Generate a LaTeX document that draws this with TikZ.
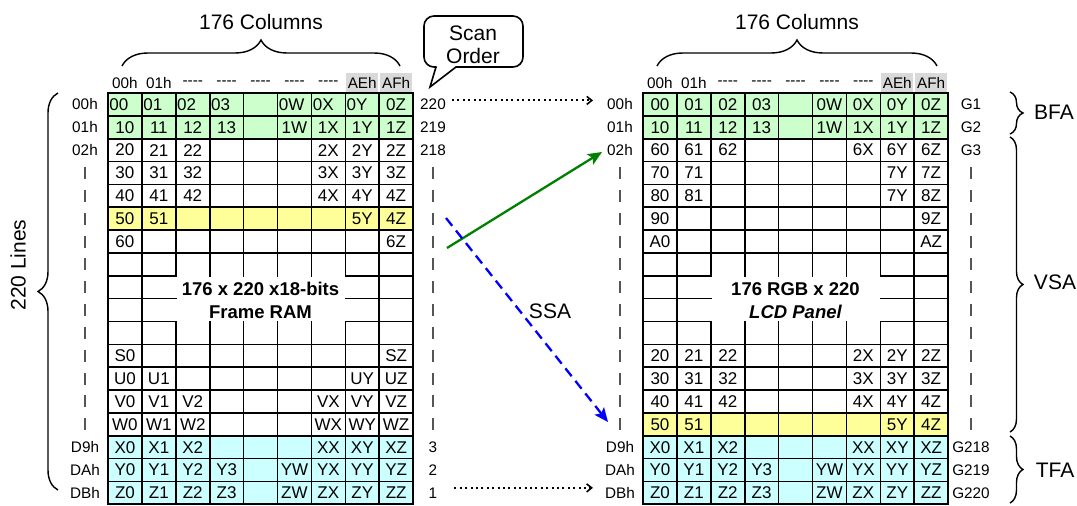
\documentclass[tikz,border=0pt]{standalone}
\usepackage{fontspec}
\setmainfont{Liberation Sans}
\usetikzlibrary{arrows.meta,decorations.pathreplacing}
\definecolor{cgreen}{HTML}{CCFFCC}
\definecolor{cyellow}{HTML}{FFFF99}
\definecolor{ccyan}{HTML}{CCFFFF}
\definecolor{cgray}{HTML}{D9D9D9}
\definecolor{dgreen}{HTML}{008000}
\definecolor{dashgray}{HTML}{555555}
\newcommand{\cellF}{\fontsize{17}{19}\selectfont}
\newcommand{\lblF}{\fontsize{15.3}{17}\selectfont}
\newcommand{\bigF}{\fontsize{21}{24}\selectfont}
\newcommand{\midF}{\fontsize{18.5}{22}\selectfont}
\newcommand{\fourdash}{-{}-{}-{}-}
\def\cw{33.9}
\def\rh{22.85}
\def\ytop{93}
% one row of cell texts
\newcommand{\cellrow}[4]{%
  \foreach \t [count=\c] in {#4} {
    \node[cell] (#1#3-\c) at ({#2+(\c-0.5)*\cw},{\ytop+(#3-0.5)*\rh}) {\t};
  }%
}
\newcommand{\cellrowL}[4]{%
  \foreach \t [count=\c] in {#4} {
    \ifnum\c<9
      \node[cell,anchor=west] (#1#3-\c) at ({#2+(\c-1)*\cw+1.2},{\ytop+(#3-0.5)*\rh}) {\t};
    \else
      \node[cell] (#1#3-\c) at ({#2+(\c-0.5)*\cw},{\ytop+(#3-0.5)*\rh}) {\t};
    \fi
  }%
}
% fills of a grid
\newcommand{\gridfills}[2]{% #1 x0, #2 yellow row
  \fill[cgreen] ({#1},{\ytop}) rectangle ({#1+9*\cw},{\ytop+2*\rh});
  \fill[cyellow] ({#1},{\ytop+(#2-1)*\rh}) rectangle ({#1+9*\cw},{\ytop+#2*\rh});
  \fill[ccyan] ({#1},{\ytop+15*\rh}) rectangle ({#1+9*\cw},{\ytop+18*\rh});
  \fill[cgray] ({#1+7*\cw+1},73) rectangle ({#1+8*\cw-1},92);
  \fill[cgray] ({#1+8*\cw+1},73) rectangle ({#1+9*\cw-1},92);
}
% lines of a grid
\newcommand{\gridlines}[1]{%
  \foreach \k in {1,...,7,11,12,...,17}
    \draw[gl] ({#1},{\ytop+\k*\rh}) -- ({#1+9*\cw},{\ytop+\k*\rh});
  \foreach \k in {8,9,10} {
    \draw[gl] ({#1},{\ytop+\k*\rh}) -- ({#1+2*\cw},{\ytop+\k*\rh});
    \draw[gl] ({#1+7*\cw},{\ytop+\k*\rh}) -- ({#1+9*\cw},{\ytop+\k*\rh});
  }
  \foreach \j in {1,8}
    \draw[gl] ({#1+\j*\cw},{\ytop}) -- ({#1+\j*\cw},{\ytop+18*\rh});
  \foreach \j in {2,...,7} {
    \draw[gl] ({#1+\j*\cw},{\ytop}) -- ({#1+\j*\cw},{\ytop+8*\rh});
    \draw[gl] ({#1+\j*\cw},{\ytop+10*\rh}) -- ({#1+\j*\cw},{\ytop+18*\rh});
  }
  \draw[ob] ({#1},{\ytop}) rectangle ({#1+9*\cw},{\ytop+18*\rh});
}
\newcommand{\headers}[2]{%
  \foreach \t [count=\c] in {00h,01h,\fourdash,\fourdash,\fourdash,\fourdash,\fourdash,AEh,AFh}
    \node[lbl] (#2h\c) at ({#1+(\c-0.5)*\cw},83) {\t};
}
\newcommand{\dashcol}[1]{%
  \foreach \r in {4,...,15}
    \draw[dsh] (#1,{\ytop+(\r-0.5)*\rh-6}) -- (#1,{\ytop+(\r-0.5)*\rh+6});
}
\newcommand{\sidelbl}[3]{% #1 x, #2 name prefix, #3 list of 6
  \foreach \t [count=\c] in {#3} {
    \pgfmathtruncatemacro{\rr}{\c<4 ? \c : \c+12}
    \node[lbl] (#2\c) at (#1,{\ytop+(\rr-0.5)*\rh}) {\t};
  }%
}
\begin{document}
\begin{tikzpicture}[x=1pt,y=-1pt,
  cell/.style={font=\cellF,inner sep=0pt},
  lbl/.style={font=\lblF,inner sep=0pt},
  big/.style={font=\bigF,inner sep=0pt},
  mid/.style={font=\midF\bfseries,inner sep=0pt},
  gl/.style={line width=1.6pt,line cap=rect},
  ob/.style={line width=2.2pt},
  dsh/.style={draw=dashgray,line width=1.2pt},
  brc/.style={decorate,decoration={brace,amplitude=#1},line width=1.4pt},
  dotarrow/.style={line width=2pt,dash pattern=on 2pt off 3.4pt,-{Straight Barb[length=5pt,width=8pt,line width=1.6pt]}},
  grnarrow/.style={draw=dgreen,line width=2.3pt,-{Stealth[length=14pt,width=12pt,inset=3pt]}},
  bluarrow/.style={draw=blue,line width=2.3pt,dash pattern=on 10pt off 6pt,-{Stealth[length=14pt,width=12pt,inset=3pt]}},
]
\useasboundingbox (0,0) rectangle (1077,506);
% fills
\gridfills{108}{6}
\gridfills{643}{15}
% lines
\gridlines{108}
\gridlines{643}
% headers
\headers{108}{L}
\headers{643}{R}
% left grid cells
\cellrowL{L}{108}{1}{00,01,02,03,{},0W,0X,0Y,0Z}
\cellrow{L}{108}{2}{10,11,12,13,{},1W,1X,1Y,1Z}
\cellrow{L}{108}{3}{20,21,22,{},{},{},2X,2Y,2Z}
\cellrow{L}{108}{4}{30,31,32,{},{},{},3X,3Y,3Z}
\cellrow{L}{108}{5}{40,41,42,{},{},{},4X,4Y,4Z}
\cellrow{L}{108}{6}{50,51,{},{},{},{},{},5Y,4Z}
\cellrow{L}{108}{7}{60,{},{},{},{},{},{},{},6Z}
\cellrow{L}{108}{12}{S0,{},{},{},{},{},{},{},SZ}
\cellrow{L}{108}{13}{U0,U1,{},{},{},{},{},UY,UZ}
\cellrow{L}{108}{14}{V0,V1,V2,{},{},{},VX,VY,VZ}
\cellrow{L}{108}{15}{W0,W1,W2,{},{},{},WX,WY,WZ}
\cellrow{L}{108}{16}{X0,X1,X2,{},{},{},XX,XY,XZ}
\cellrow{L}{108}{17}{Y0,Y1,Y2,Y3,{},YW,YX,YY,YZ}
\cellrow{L}{108}{18}{Z0,Z1,Z2,Z3,{},ZW,ZX,ZY,ZZ}
% right grid cells
\cellrow{R}{643}{1}{00,01,02,03,{},0W,0X,0Y,0Z}
\cellrow{R}{643}{2}{10,11,12,13,{},1W,1X,1Y,1Z}
\cellrow{R}{643}{3}{60,61,62,{},{},{},6X,6Y,6Z}
\cellrow{R}{643}{4}{70,71,{},{},{},{},{},7Y,7Z}
\cellrow{R}{643}{5}{80,81,{},{},{},{},{},7Y,8Z}
\cellrow{R}{643}{6}{90,{},{},{},{},{},{},{},9Z}
\cellrow{R}{643}{7}{A0,{},{},{},{},{},{},{},AZ}
\cellrow{R}{643}{12}{20,21,22,{},{},{},2X,2Y,2Z}
\cellrow{R}{643}{13}{30,31,32,{},{},{},3X,3Y,3Z}
\cellrow{R}{643}{14}{40,41,42,{},{},{},4X,4Y,4Z}
\cellrow{R}{643}{15}{50,51,{},{},{},{},{},5Y,4Z}
\cellrow{R}{643}{16}{X0,X1,X2,{},{},{},XX,XY,XZ}
\cellrow{R}{643}{17}{Y0,Y1,Y2,Y3,{},YW,YX,YY,YZ}
\cellrow{R}{643}{18}{Z0,Z1,Z2,Z3,{},ZW,ZX,ZY,ZZ}
% centre texts
\node[mid] (ramA) at (260.5,289) {176 x 220 x18-bits};
\node[mid] (ramB) at (260.5,312) {Frame RAM};
\node[mid] (lcdA) at (795.5,289) {176 RGB x 220};
\node[mid] (lcdB) at (795.5,312) {\itshape LCD Panel};
% side labels
\sidelbl{85}{ll}{00h,01h,02h,D9h,DAh,DBh}
\sidelbl{433}{lr}{220,219,218,3,2,1}
\sidelbl{620}{rl}{00h,01h,02h,D9h,DAh,DBh}
\sidelbl{971}{rr}{G1,G2,G3,G218,G219,G220}
\dashcol{85}
\dashcol{433}
\dashcol{620}
\dashcol{971}
% braces and their texts
\draw[brc=26pt] (122,66) -- (400,66);
\draw[brc=26pt] (657,66) -- (937,66);
\node[big] (colsL) at (261,22) {176 Columns};
\node[big] (colsR) at (797,22) {176 Columns};
\draw[brc=20pt] (58,490) -- (58,93);
\node[big,rotate=90] (lines) at (18,265) {220 Lines};
\draw[brc=13pt] (1010,92) -- (1010,134);
\draw[brc=13pt] (1010,137) -- (1010,432);
\draw[brc=13pt] (1010,436) -- (1010,503);
\node[big] (bfa) at (1054,112) {BFA};
\node[big] (vsa) at (1055,282) {VSA};
\node[big] (tfa) at (1055,470) {TFA};
% scan order callout
\draw[line width=1.6pt,line cap=round,rounded corners=10pt] (436,67) -- (424,67) -- (424,16) -- (523,16) -- (523,67) -- (456,67);
\draw[line width=1.6pt,line cap=round,line join=miter] (436,67) -- (430,87) -- (456,67);
\node[big,align=center] (scan) at (473,45) {Scan\\[-1pt]Order};
% connectors
\draw[dotarrow] ([xshift=6pt,yshift=4pt]lr1.east) -- ([xshift=-14pt,yshift=4pt]rl1.west);
\draw[dotarrow] ([xshift=17pt,yshift=5pt]lr6.east) -- ([xshift=-12pt,yshift=5pt]rl6.west);
\coordinate (gS) at (447,248);
\coordinate (gE) at (602,152);
\coordinate (bS) at (446,218);
\coordinate (bE) at (608,422);
\draw[grnarrow] (gS) -- (gE);
\draw[bluarrow] (bS) -- (bE);
\node[big] (ssa) at (550,311) {SSA};
\end{tikzpicture}
\end{document}
